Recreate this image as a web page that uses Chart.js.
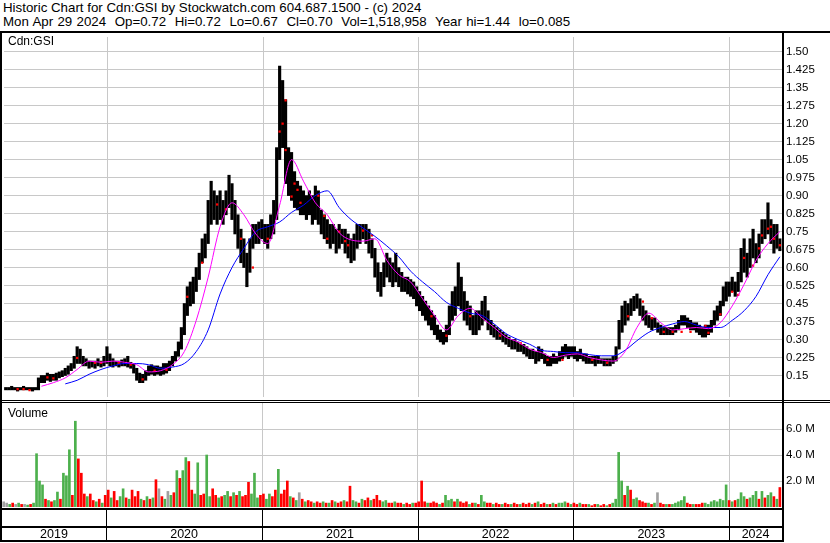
<!DOCTYPE html>
<html>
<head>
<meta charset="utf-8">
<script src="https://cdn.jsdelivr.net/npm/chart.js@4.4.1/dist/chart.umd.min.js"></script>
<style>
  body { margin: 0; background: #fff; }
  #page { position: relative; width: 830px; height: 543px; overflow: hidden; background: #fff;
          font-family: Arial, "Liberation Sans", sans-serif; color: #000; }
  .head { position: absolute; left: 3px; font-size: 13.3px; line-height: 14px; white-space: pre; }
  .label { position: absolute; left: 8px; font-size: 12px; }
  .rule { position: absolute; background: #000; }
  canvas { position: absolute; left: 0; }
</style>
</head>
<body>
<div id="page">
  <div class="head" id="head1" style="top:1px"></div>
  <div class="head" id="head2" style="top:15px;word-spacing:0.6px"></div>
  <canvas id="price" width="830" height="368" style="top:33px"></canvas>
  <canvas id="volume" width="830" height="140" style="top:403px"></canvas>
  <div class="label" style="top:34px">Cdn:GSI</div>
  <div class="label" style="top:406px">Volume</div>
  <div class="rule" style="left:0;top:31px;width:830px;height:2px"></div>
  <div class="rule" style="left:0;top:31px;width:2px;height:511px"></div>
  <div class="rule" style="left:782px;top:31px;width:2px;height:511px"></div>
  <div class="rule" style="left:0;top:400px;width:830px;height:1px"></div>
  <div class="rule" style="left:0;top:402px;width:830px;height:1px"></div>
  <div class="rule" style="left:0;top:508px;width:784px;height:2px"></div>
  <div class="rule" style="left:0;top:526px;width:784px;height:2px"></div>
  <div class="rule" style="left:0;top:540px;width:784px;height:2px"></div>
</div>
<script>
const headerLines = [
  'Historic Chart for Cdn:GSI by Stockwatch.com 604.687.1500 - (c) 2024',
  'Mon Apr 29 2024  Op=0.72  Hi=0.72  Lo=0.67  Cl=0.70  Vol=1,518,958  Year hi=1.44  lo=0.085'
];

// one bar per week, first week starting here
const firstWeek = '2019-05-06';

const weekHigh = [
  .10,.10,.105,.10,.10,.10,.105,.10,.10,.10,
  .10,.14,.15,.15,.16,.155,.155,.16,.165,.17,
  .18,.19,.20,.23,.27,.26,.23,.22,.21,.21,
  .21,.22,.21,.23,.27,.24,.22,.21,.21,.215,
  .22,.23,.205,.20,.18,.16,.155,.17,.19,.195,
  .19,.19,.185,.20,.20,.21,.23,.25,.29,.35,
  .45,.52,.54,.56,.60,.66,.72,.74,.88,.96,
  .92,.90,.92,.88,.92,.985,.95,.88,.82,.76,
  .72,.66,.72,.78,.78,.79,.80,.78,.78,.82,
  .88,1.10,1.44,1.38,1.30,1.10,1.08,1.00,.96,.94,
  .92,.90,.92,.90,.94,.92,.84,.82,.80,.78,
  .78,.76,.78,.76,.76,.74,.72,.74,.78,.78,
  .78,.78,.76,.72,.68,.62,.58,.62,.66,.64,
  .62,.66,.60,.58,.56,.56,.55,.54,.52,.50,
  .48,.46,.44,.42,.40,.36,.34,.33,.36,.44,
  .50,.52,.62,.56,.50,.46,.44,.40,.42,.42,
  .46,.48,.42,.38,.36,.35,.34,.33,.32,.31,
  .30,.30,.29,.28,.28,.27,.26,.26,.25,.27,
  .26,.24,.23,.23,.24,.23,.25,.27,.28,.27,
  .27,.27,.25,.26,.24,.24,.23,.23,.23,.23,
  .22,.22,.22,.22,.23,.27,.38,.44,.46,.45,
  .47,.48,.49,.47,.44,.42,.40,.39,.39,.37,
  .36,.35,.35,.35,.35,.36,.38,.40,.40,.39,
  .38,.37,.37,.36,.35,.36,.36,.38,.42,.44,
  .46,.52,.54,.54,.56,.54,.58,.68,.72,.66,
  .72,.76,.70,.74,.80,.80,.87,.80,.78,.78,
  .72
];

const weekLow = [
  .09,.09,.09,.09,.085,.09,.09,.09,.09,.085,
  .09,.09,.12,.12,.13,.125,.13,.13,.14,.145,
  .15,.155,.17,.18,.20,.20,.19,.19,.18,.185,
  .18,.19,.185,.19,.20,.19,.185,.19,.185,.19,
  .19,.185,.18,.16,.13,.12,.12,.13,.15,.155,
  .15,.155,.15,.155,.16,.17,.19,.21,.23,.26,
  .32,.40,.44,.45,.50,.55,.62,.64,.70,.78,
  .80,.78,.80,.78,.82,.85,.80,.74,.68,.62,
  .60,.52,.58,.68,.70,.70,.72,.70,.68,.72,
  .74,.80,1.05,1.10,.95,.90,.88,.85,.84,.82,
  .82,.80,.82,.78,.80,.78,.74,.72,.70,.68,
  .70,.66,.68,.70,.66,.64,.62,.63,.68,.70,
  .72,.70,.66,.64,.56,.50,.48,.52,.56,.54,
  .52,.54,.52,.50,.50,.49,.48,.47,.44,.42,
  .40,.38,.36,.34,.32,.30,.29,.28,.29,.32,
  .38,.40,.44,.42,.38,.36,.34,.32,.32,.34,
  .36,.38,.34,.32,.31,.30,.30,.29,.28,.27,
  .26,.26,.25,.25,.24,.23,.22,.22,.20,.21,
  .22,.20,.19,.19,.20,.20,.21,.22,.23,.22,
  .23,.22,.21,.22,.21,.20,.20,.20,.19,.20,
  .20,.19,.19,.19,.20,.21,.26,.33,.36,.38,
  .40,.42,.43,.40,.38,.36,.35,.34,.35,.33,
  .32,.32,.32,.32,.32,.33,.34,.36,.36,.35,
  .34,.34,.33,.32,.31,.31,.32,.33,.36,.38,
  .40,.44,.46,.48,.50,.48,.50,.54,.58,.56,
  .60,.64,.62,.64,.70,.72,.74,.70,.66,.68,
  .67
];

// red close ticks seen on the bars: week number and price
const redMarkWeeks = [4,6,8,14,16,24,30,32,38,42,46,50,54,61,66,71,74,79,83,
  88,92,93,94,94,96,97,98,99,105,107,108,112,114,115,120,123,
  143,148,156,166,173,182,187,197,202,
  209,214,217,221,224,227,230,235,236,240,244,246,248,251,253,254,256,257,258,260];
const redMarkPrices = [.093,.093,.089,.142,.138,.223,.203,.203,.203,.195,.134,.17,.174,.478,.62,.863,.843,.72,.60,
  .72,1.167,1.20,1.297,1.09,.896,.95,.924,.87,.90,.815,.72,.75,.71,.693,.754,.734,
  .397,.316,.397,.316,.284,.215,.215,.215,.203,
  .397,.458,.389,.332,.332,.332,.332,.357,.328,.405,.499,.486,.64,.608,.68,.734,.762,.77,.72,.693];

// millions of shares
const weekVolume = [
  .4,.3,.2,.3,.2,.3,.2,.2,.15,.2,
  .3,4.1,2.0,1.7,.6,.5,.4,.5,1.15,.6,
  2.6,2.4,4.4,.9,6.6,3.7,2.6,1.0,.8,1.0,
  .5,.4,.6,.3,.9,1.3,.7,1.2,.5,.8,
  1.4,.7,.6,1.3,.8,1.2,.6,.5,.8,.6,
  .7,2.1,1.4,.8,.6,1.2,.9,1.1,2.8,2.2,
  2.8,3.8,3.5,1.3,1.0,3.4,.9,1.0,4.0,.8,
  1.4,.9,.7,.8,.9,1.2,.8,1.1,.9,1.2,
  .8,.9,1.9,1.0,2.6,.7,.9,1.0,.6,1.0,
  .8,1.3,2.9,1.0,1.3,2.0,.8,.7,.5,1.1,
  .6,.4,.5,.4,.3,.4,.3,.4,.3,.3,
  .5,.4,.3,.4,.5,.4,1.6,.5,.4,.3,
  .6,.5,.7,.5,.6,.9,.5,.4,.5,.3,
  .3,.4,.3,.3,.2,.3,.2,.3,.3,.4,
  2.0,.4,.3,.3,.4,.3,.2,.3,.9,.5,
  .6,.4,.6,.4,.3,.4,.2,.3,.3,.2,
  .9,.4,.3,.3,.2,.3,.2,.2,.3,.2,
  .2,.3,.2,.2,.3,.2,.3,.2,.3,.4,
  .2,.3,.2,.2,.3,.2,.3,.3,.4,.3,
  .2,.3,.2,.3,.2,.2,.2,.1,.2,.2,
  .1,.2,.1,.2,.3,.6,4.2,2.0,.9,1.6,
  1.3,.6,.7,.5,.4,.3,.3,.2,.3,1.1,
  .3,.2,.2,.2,.2,.3,.4,.5,.8,.3,
  .2,.2,.2,.2,.3,.3,.2,.4,.5,.4,
  .6,.5,1.7,.5,.4,.5,.6,1.1,.8,.6,
  .7,.9,1.2,.6,1.2,.7,.9,1.1,.8,.6,
  1.5
];

// g = up, r = down, n = unchanged
const weekDirection =
  'nngrngrngr' + 'ggggrgrggr' + 'gggrgrrrgr' + 'rgrgrrgrrg' + 'grgrrrgrgr' +
  'grnrgngrgr' + 'ggrrggrrgg' + 'rrgrggrgrg' + 'rrrgggrrgg' + 'rrgrrrgrgn' +
  'rgrrgrrgrg' + 'rgrrgrrggr' + 'grrgrrrggr' + 'rgrrgrrgrr' + 'rrgrrrgrgg' +
  'grgrrrgrgr' + 'ggrrgrrgrr' + 'grrgrrrgrg' + 'rrgrgrgggr' + 'grrgrrgrrg' +
  'rrgrggggrg' + 'rggrrrgrgn' + 'rrgrgggggr' + 'rgrrrggggg' + 'gggrgrgggr' +
  'gggrgrggrg' + 'r';

// moving averages, read at these week numbers
const maFastWeeks = [12,16,20,24,28,32,36,40,44,48,52,56,60,64,68,72,76,80,84,88,
  92,96,100,104,108,112,116,120,124,128,132,136,140,144,148,152,156,160,164,168,
  172,176,180,184,188,192,196,200,204,208,212,216,220,224,228,232,236,240,244,248,
  252,256,260];
const maFast = [.105,.12,.14,.175,.21,.205,.21,.205,.195,.165,.17,.195,.25,.38,.56,.77,.87,.82,.74,.70,
  .86,1.05,.96,.87,.82,.745,.715,.71,.72,.63,.57,.54,.47,.40,.34,.40,.43,.39,.35,.31,
  .29,.26,.245,.225,.235,.24,.225,.215,.21,.25,.35,.41,.37,.34,.345,.35,.345,.37,.44,.53,
  .63,.70,.75];
const maSlowWeeks = [20,24,28,32,36,40,44,48,52,56,60,64,68,72,76,80,84,88,92,96,
  100,104,108,112,116,120,124,128,132,136,140,144,148,152,156,160,164,168,172,176,
  180,184,188,192,196,200,204,208,212,216,220,224,228,232,236,240,244,248,252,256,
  260];
const maSlow = [.115,.13,.155,.175,.19,.20,.20,.195,.18,.185,.20,.25,.34,.49,.60,.68,.75,.77,.79,.83,
  .86,.90,.92,.85,.80,.765,.73,.69,.645,.585,.54,.50,.455,.43,.41,.40,.365,.325,.30,.28,
  .255,.25,.245,.245,.237,.232,.232,.255,.295,.33,.35,.365,.375,.36,.35,.35,.38,.42,.48,.57,
  .645];

const priceTicks = ['1.50','1.425','1.35','1.275','1.20','1.125','1.05','0.975','0.90','0.825',
  '0.75','0.675','0.60','0.525','0.45','0.375','0.30','0.225','0.15'];
const volumeTicks = ['2.0 M','4.0 M','6.0 M'];
const years = ['2019','2020','2021','2022','2023','2024'];
const yearStarts = ['2020-01-01','2021-01-01','2022-01-01','2023-01-01','2024-01-01'];

document.getElementById('head1').textContent = headerLines[0];
document.getElementById('head2').textContent = headerLines[1];

const dayOf = s => (Date.parse(s) - Date.parse('2020-01-01')) / 864e5;
const week0 = dayOf(firstWeek);
const weekDay = i => week0 + 7 * i;
const xMin = dayOf('2019-05-02');
const xMax = dayOf('2024-05-04');

const gridGrey = '#c8c8c8';
const axisFont = { family: 'Arial, "Liberation Sans", sans-serif', size: 11.5 };
const dirColor = { g: '#4cb04c', r: '#ff0000', n: '#a0a0a0' };

function timeAxis() {
  return {
    type: 'linear', min: xMin, max: xMax, offset: false,
    afterBuildTicks: s => { s.ticks = yearStarts.map(d => ({ value: dayOf(d) })); },
    ticks: { display: false },
    grid: { color: gridGrey, drawTicks: false, offset: false },
    border: { display: false },
    afterFit: s => { s.height = 0; s.paddingLeft = 0; s.paddingRight = 0; }
  };
}

function rightAxis(min, max, labels, toValue) {
  return {
    position: 'right', min, max,
    afterBuildTicks: s => { s.ticks = labels.map(t => ({ value: toValue(t) })); },
    ticks: {
      autoSkip: false, color: '#000', font: axisFont, padding: 4,
      callback: v => labels.find(t => Math.abs(toValue(t) - v) < 1e-6)
    },
    grid: { color: gridGrey, drawTicks: false },
    border: { display: false },
    // keep the plot flush with the canvas edges
    afterFit: s => { s.width = 48; s.paddingTop = 0; s.paddingBottom = 0; }
  };
}

const common = {
  responsive: false, animation: false, devicePixelRatio: 1,
  plugins: { legend: { display: false }, tooltip: { enabled: false } }
};

// lower order is drawn on top
new Chart(document.getElementById('price'), {
  type: 'bar',
  data: {
    datasets: [
      {
        type: 'line', order: 1, data: maSlowWeeks.map((w, i) => ({ x: weekDay(w), y: maSlow[i] })),
        borderColor: '#0000ff', borderWidth: 1, pointRadius: 0, cubicInterpolationMode: 'monotone'
      },
      {
        type: 'line', order: 0, data: maFastWeeks.map((w, i) => ({ x: weekDay(w), y: maFast[i] })),
        borderColor: '#ff00ff', borderWidth: 1, pointRadius: 0, cubicInterpolationMode: 'monotone'
      },
      {
        order: 3, data: weekHigh.map((h, i) => ({ x: weekDay(i), y: [weekLow[i], h] })),
        backgroundColor: '#000', barThickness: 2.5, grouped: false
      },
      {
        type: 'scatter', order: 2, data: redMarkWeeks.map((w, i) => ({ x: weekDay(w), y: redMarkPrices[i] })),
        pointStyle: 'rect', radius: 1.6, backgroundColor: '#ff0000', borderWidth: 0
      }
    ]
  },
  options: {
    ...common,
    layout: { padding: { left: 2 } },
    scales: { x: timeAxis(), y: rightAxis(0.0603, 1.5612, priceTicks, t => parseFloat(t)) }
  }
});

const yearBand = {
  id: 'yearBand',
  afterDraw(chart) {
    const { ctx, chartArea } = chart;
    const x = chart.scales.x;
    const edges = [chartArea.left, ...yearStarts.map(d => x.getPixelForValue(dayOf(d))), chartArea.right];
    ctx.save();
    ctx.fillStyle = '#000';
    edges.slice(1, -1).forEach(px => ctx.fillRect(Math.round(px), 106, 1, 32));
    ctx.font = '12.5px Arial, "Liberation Sans", sans-serif';
    ctx.textAlign = 'center';
    ctx.textBaseline = 'middle';
    years.forEach((yr, i) => ctx.fillText(yr, (edges[i] + edges[i + 1]) / 2, 132));
    ctx.restore();
  }
};

new Chart(document.getElementById('volume'), {
  type: 'bar',
  data: {
    datasets: [{
      data: weekVolume.map((v, i) => ({ x: weekDay(i), y: v })),
      backgroundColor: weekVolume.map((v, i) => dirColor[weekDirection[i]]),
      barThickness: 2
    }]
  },
  options: {
    ...common,
    layout: { padding: { left: 2, bottom: 36 } },
    scales: { x: timeAxis(), y: rightAxis(0, 8, volumeTicks, t => parseFloat(t)) }
  },
  plugins: [yearBand]
});
</script>
</body>
</html>
